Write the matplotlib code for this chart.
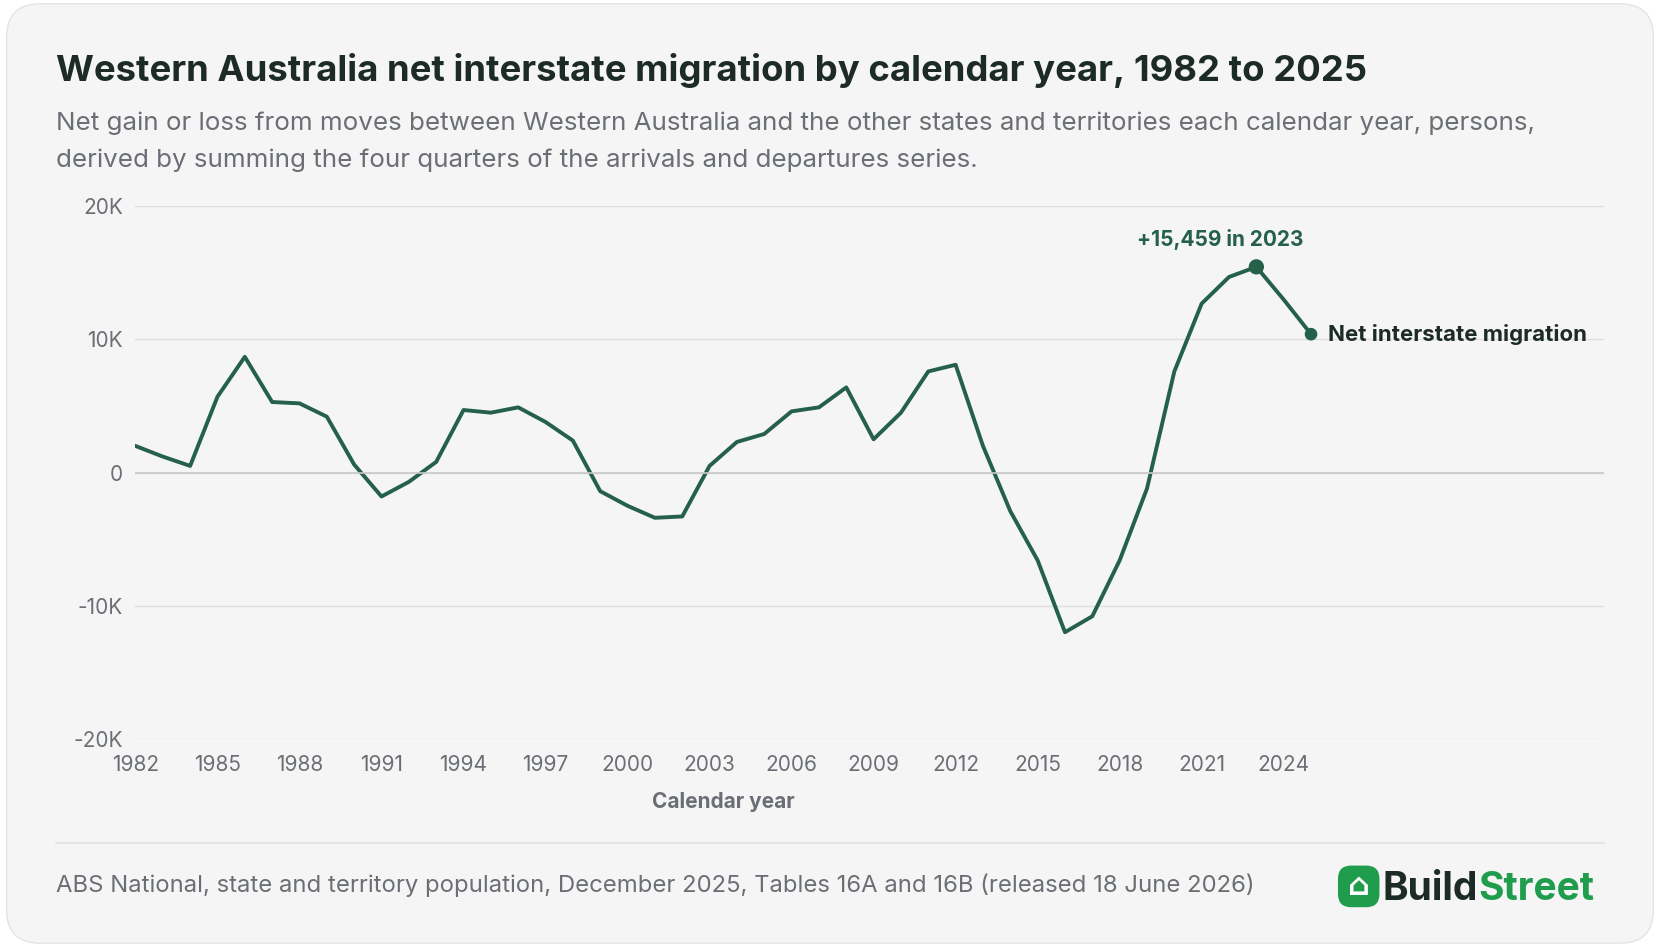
import matplotlib
matplotlib.use("Agg")
import matplotlib.pyplot as plt
from matplotlib.patches import FancyBboxPatch

plt.rcParams['font.family'] = ['Inter', 'DejaVu Sans']

years = list(range(1982, 2026))
net = [2000, 1200, 500, 5700, 8700, 5300, 5200, 4200, 600, -1800, -700, 800,
       4700, 4500, 4900, 3800, 2400, -1400, -2500, -3400, -3300, 500, 2300, 2900,
       4600, 4900, 6400, 2500, 4500, 7600, 8100, 2000, -2900, -6600, -12000, -10800,
       -6600, -1200, 7600, 12700, 14700, 15459, 13000, 10400]
xticks = list(range(1982, 2025, 3))
yticks = [-20000, -10000, 0, 10000, 20000]
ylabels = ['-20K', '-10K', '0', '10K', '20K']

W, H = 1660, 947
fig = plt.figure(figsize=(W/100, H/100), dpi=100)
fig.patch.set_facecolor('white')
card = FancyBboxPatch((0.004, 0.004), 0.992, 0.992, boxstyle="round,pad=0,rounding_size=0.02",
                      transform=fig.transFigure, facecolor='#f5f5f5', edgecolor='#e4e4e4', lw=1,
                      mutation_aspect=W/H, zorder=-10)
fig.patches.append(card)

green = '#24604a'
ax = fig.add_axes([0.0816, 0.220, 0.8844, 0.562])
ax.set_facecolor('none')
ax.plot(years, net, color=green, lw=2.8, solid_joinstyle='round')
ax.scatter([2023, 2025], [15459, 10400], color=green, s=[100, 65], zorder=3)
ax.annotate('+15,459 in 2023', (2023, 15459), xytext=(-26, 12), textcoords='offset points',
            ha='center', va='bottom', fontsize=15, fontweight='bold', color=green)
ax.annotate('Net interstate migration', (2025, 10400), xytext=(12, 0), textcoords='offset points',
            ha='left', va='center', fontsize=16, fontweight='bold', color='#1d2b26')
ax.set_xlim(1982, 2035.7)
ax.set_ylim(-20000, 20000)
ax.set_xticks(xticks)
ax.set_xticklabels([str(t) for t in xticks], fontsize=15, color='#6b6f75')
ax.set_yticks(yticks)
ax.set_yticklabels(ylabels, fontsize=15, color='#6b6f75')
ax.tick_params(length=0)
ax.xaxis.set_tick_params(pad=12)
ax.yaxis.set_tick_params(pad=9)
for s in ax.spines.values():
    s.set_visible(False)
ax.grid(axis='y', color='#dedede', lw=1)
ax.axhline(0, color='#c9c9c9', lw=1.2)
ax.set_xlabel('Calendar year', fontsize=15, fontweight='bold', color='#6b6f75')
ax.xaxis.set_label_coords((2003.5-1982)/(2035.7-1982), -0.10)

fig.text(0.034, 0.926, 'Western Australia net interstate migration by calendar year, 1982 to 2025',
         fontsize=26.3, fontweight='bold', color='#1d2b26', va='center')
fig.text(0.034, 0.870, 'Net gain or loss from moves between Western Australia and the other states and territories each calendar year, persons,',
         fontsize=18.7, color='#6b6f75', va='center')
fig.text(0.034, 0.831, 'derived by summing the four quarters of the arrivals and departures series.',
         fontsize=18.7, color='#6b6f75', va='center')
fig.add_artist(plt.Line2D([0.034, 0.966], [0.110, 0.110], transform=fig.transFigure, color='#e0e0e0', lw=1.2))
fig.text(0.034, 0.065, 'ABS National, state and territory population, December 2025, Tables 16A and 16B (released 18 June 2026)',
         fontsize=17.2, color='#6b6f75', va='center')
# logo
icon = FancyBboxPatch((0.806, 0.042), 0.025, 0.044, boxstyle="round,pad=0,rounding_size=0.008",
                      transform=fig.transFigure, facecolor='#1f9d4c', edgecolor='none', mutation_aspect=W/H)
fig.patches.append(icon)
fig.text(0.8185, 0.064, '⌂', fontsize=22, color='white', ha='center', va='center', fontweight='bold',
         family=['DejaVu Sans'])
t1 = fig.text(0.833, 0.061, 'Build', fontsize=28, fontweight='bold', color='#1d2b26', va='center')
fig.canvas.draw()
bb = t1.get_window_extent()
fig.text(bb.x1 / W, 0.061, 'Street', fontsize=28, fontweight='bold', color='#1f9d4c', va='center')

fig.savefig('out.png', dpi=100, facecolor='white')
